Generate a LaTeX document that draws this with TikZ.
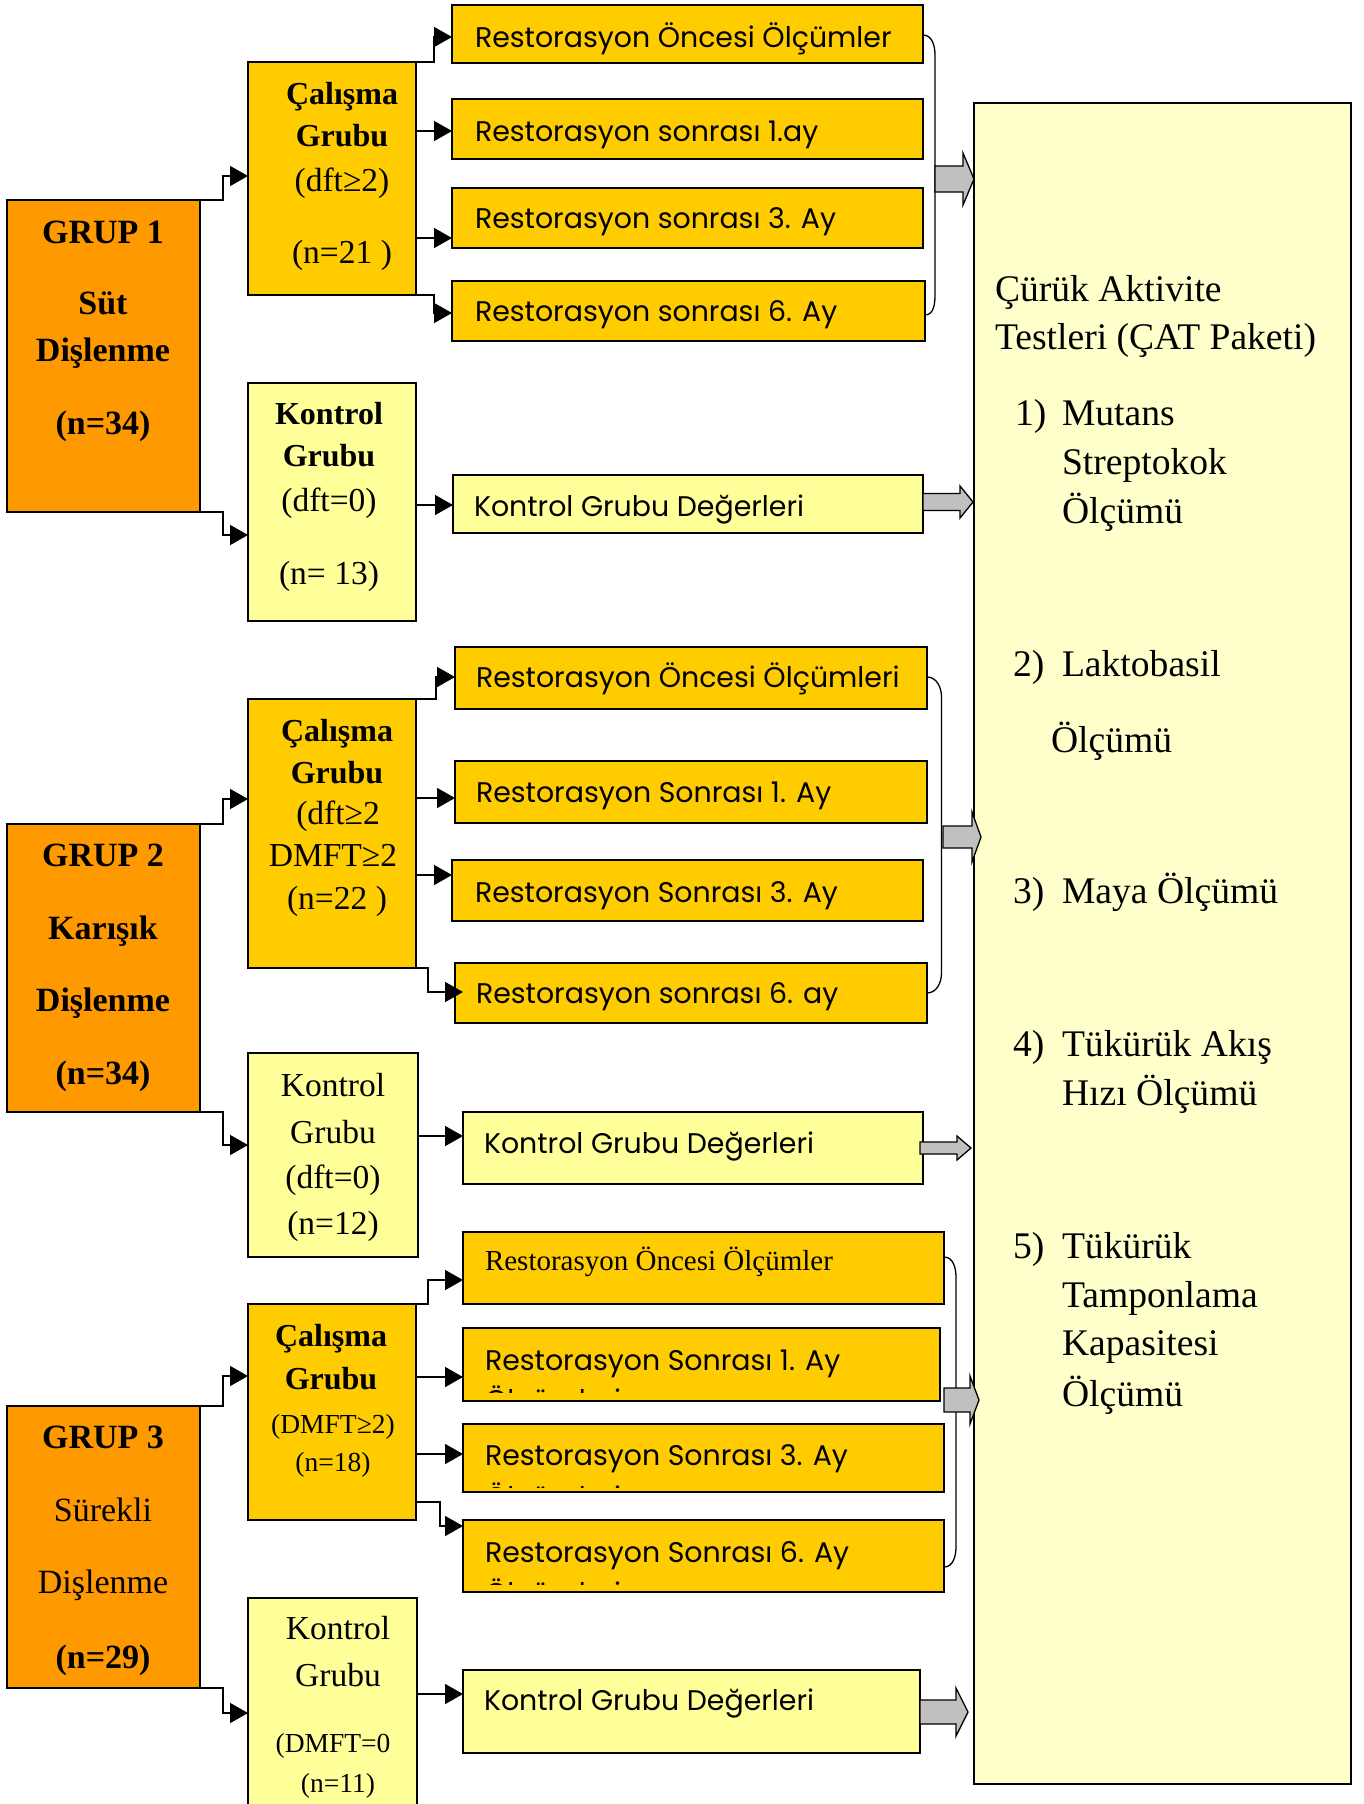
\documentclass[tikz,border=0pt]{standalone}
\usepackage{fontspec}
\setmainfont{Liberation Serif}
\newfontfamily\goth{Poppins}
\usetikzlibrary{arrows.meta,calc}
\definecolor{grpor}{HTML}{FF9900}
\definecolor{gold}{HTML}{FFCC00}
\definecolor{lyel}{HTML}{FFFF99}
\definecolor{paleyel}{HTML}{FFFFCC}
\definecolor{arrgray}{HTML}{C0C0C0}
\newcommand\bx[6]{%
 \pgfmathsetmacro\bxw{#5-#3}\pgfmathsetmacro\bxh{#6-#4}%
 \node[#2,anchor=north west,minimum width=\bxw pt,minimum height=\bxh pt] (#1) at (#3,#4) {};}
\newcommand\garrow[6]{\draw[garr] (#1,{#4-#5}) -- (#2,{#4-#5}) -- (#2,{#4-#6}) -- (#3,#4) -- (#2,{#4+#6}) -- (#2,{#4+#5}) -- (#1,{#4+#5}) -- cycle;}
\begin{document}
\begin{tikzpicture}[x=1pt,y=-1pt,
 every node/.style={inner sep=0pt,outer sep=0pt},
 bxs/.style={draw=black,line width=2pt},
 grp/.style={bxs,fill=grpor},
 gld/.style={bxs,fill=gold},
 lyb/.style={bxs,fill=lyel},
 bigb/.style={bxs,fill=paleyel},
 conn/.style={line width=1.6pt,-{Triangle[length=18pt,width=20pt]}},
 brc/.style={line width=1.3pt},
 garr/.style={draw=black,line width=1.3pt,fill=arrgray,line join=miter},
 tg/.style={font=\fontsize{34}{40}\selectfont\bfseries,anchor=base,yshift=-11.5pt},
 tgr/.style={font=\fontsize{34}{40}\selectfont,anchor=base,yshift=-11.5pt},
 tb/.style={font=\fontsize{32}{38}\selectfont\bfseries,anchor=base,yshift=-11pt},
 tr/.style={font=\fontsize{33.5}{38}\selectfont,anchor=base,yshift=-11pt},
 ts/.style={font=\fontsize{27.5}{32}\selectfont,anchor=base,yshift=-9pt},
 tc/.style={font=\fontsize{37.6}{42}\selectfont,anchor=base west,yshift=-12pt},
 tgo/.style={font=\goth\fontsize{28.4}{33}\selectfont,anchor=base west,yshift=-10pt},
 tt/.style={font=\fontsize{29}{34}\selectfont,anchor=base west,yshift=-10pt},
]
\useasboundingbox (0,0) rectangle (1363,1804);
\clip (0,0) rectangle (1363,1804);
\fill[white] (0,0) rectangle (1363,1804);

% ---------- big box ----------
\bx{cat}{bigb}{974}{103}{1351}{1784}

% ---------- Group 1 ----------
\bx{g1}{grp}{7}{200}{200}{512}
\bx{c1}{gld}{248}{62}{416}{295}
\bx{k1}{lyb}{248}{383}{416}{621}
\bx{r11}{gld}{452}{5}{923}{63}
\bx{r12}{gld}{452}{99}{923}{159}
\bx{r13}{gld}{452}{188}{923}{248}
\bx{r14}{gld}{452}{281}{925}{341}
\bx{kg1}{lyb}{453}{475}{923}{533}

% ---------- Group 2 ----------
\bx{g2}{grp}{7}{824}{200}{1112}
\bx{c2}{gld}{248}{699}{416}{968}
\bx{k2}{lyb}{248}{1053}{418}{1257}
\bx{r21}{gld}{455}{647}{927}{709}
\bx{r22}{gld}{455}{761}{927}{823}
\bx{r23}{gld}{452}{860}{923}{921}
\bx{r24}{gld}{455}{963}{927}{1023}
\bx{kg2}{lyb}{463}{1112}{923}{1184}

% ---------- Group 3 ----------
\bx{g3}{grp}{7}{1406}{200}{1688}
\bx{c3}{gld}{248}{1304}{416}{1520}
\bx{k3}{lyb}{248}{1598}{417}{1840}
\bx{r31}{gld}{463}{1232}{944}{1304}
\bx{r32}{gld}{463}{1328}{940}{1401}
\bx{r33}{gld}{463}{1424}{944}{1492}
\bx{r34}{gld}{463}{1520}{944}{1592}
\bx{kg3}{lyb}{463}{1670}{920}{1753}

% ---------- braces ----------
\draw[brc] (r11.east |- 0,35) to[out=0,in=90] (935,55) -- (935,295) to[out=-90,in=0] (r14.east |- 0,315);
\draw[brc] (r21.east |- 0,677) to[out=0,in=90] (941.5,697) -- (941.5,973) to[out=-90,in=0] (r24.east |- 0,993);
\draw[brc] (r31.east |- 0,1257) to[out=0,in=90] (956,1277) -- (956,1547) to[out=-90,in=0] (r34.east |- 0,1567);

% ---------- gray block arrows ----------
\garrow{935}{963}{974}{179}{13}{26}
\garrow{923}{960}{973}{502}{8.5}{16}
\garrow{943}{972}{981}{837}{11}{25}
\garrow{920}{957}{971}{1148}{6}{12}
\garrow{944}{970}{979}{1400}{12}{24}
\garrow{920}{956}{968}{1712}{12}{24}

% ---------- connectors ----------
\draw[conn] (g1.north east) -- (223,200) |- (c1.west |- 0,176);
\draw[conn] (g1.south east) -- (223,512) |- (k1.west |- 0,535);
\draw[conn] (c1.north east) -- (434,62) |- (r11.west |- 0,37);
\draw[conn] (c1.east |- 0,131) -- (r12.west |- 0,131);
\draw[conn] (c1.east |- 0,238) -- (r13.west |- 0,238);
\draw[conn] (c1.south east) -- (434,295) |- (r14.west |- 0,313);
\draw[conn] (k1.east |- 0,505) -- (kg1.west |- 0,505);

\draw[conn] (g2.north east) -- (223,824) |- (c2.west |- 0,799);
\draw[conn] (g2.south east) -- (223,1112) |- (k2.west |- 0,1145);
\draw[conn] (c2.north east) -- (436,699) |- (r21.west |- 0,677);
\draw[conn] (c2.east |- 0,798) -- (r22.west |- 0,798);
\draw[conn] (c2.east |- 0,875) -- (r23.west |- 0,875);
\draw[conn] (c2.south east) -- (428,968) |- ($(r24.west |- 0,992)+(8,0)$);
\draw[conn] (k2.east |- 0,1136) -- (kg2.west |- 0,1136);

\draw[conn] (g3.north east) -- (223,1406) |- (c3.west |- 0,1376);
\draw[conn] (g3.south east) -- (223,1688) |- (k3.west |- 0,1713);
\draw[conn] (c3.north east) -- (428,1304) |- (r31.west |- 0,1280);
\draw[conn] (c3.east |- 0,1377) -- (r32.west |- 0,1377);
\draw[conn] (c3.east |- 0,1454) -- (r33.west |- 0,1454);
\draw[conn] (c3.east |- 0,1502) -- (440,1502) |- (r34.west |- 0,1526);
\draw[conn] (k3.east |- 0,1694) -- (kg3.west |- 0,1694);

% ---------- texts group 1 ----------
\node[tg] (g1t1) at (103,232) {GRUP 1};
\node[tg] (g1t2) at (103,303) {Süt};
\node[tg] (g1t3) at (103,350) {Dişlenme};
\node[tg] (g1t4) at (103,423) {(n=34)};
\node[tb] (c1t1) at (342,93) {Çalışma};
\node[tb] (c1t2) at (342,135) {Grubu};
\node[tr] (c1t3) at (342,180) {(dft≥2)};
\node[tr] (c1t4) at (342,252) {(n=21 )};
\node[tb] (k1t1) at (329,413) {Kontrol};
\node[tb] (k1t2) at (329,455) {Grubu};
\node[tr] (k1t3) at (329,500) {(dft=0)};
\node[tr] (k1t4) at (329,573) {(n= 13)};
\node[tgo] (r11t) at (475,37) {Restorasyon Öncesi Ölçümler};
\node[tgo] (r12t) at (475,131) {Restorasyon sonrası 1.ay};
\node[tgo] (r13t) at (475,218) {Restorasyon sonrası 3. Ay};
\node[tgo] (r14t) at (475,311) {Restorasyon sonrası 6. Ay};
\node[tgo] (kg1t) at (474,506) {Kontrol Grubu Değerleri};

% ---------- texts group 2 ----------
\node[tg] (g2t1) at (103,855) {GRUP 2};
\node[tg] (g2t2) at (103,928) {Karışık};
\node[tg] (g2t3) at (103,1000) {Dişlenme};
\node[tg] (g2t4) at (103,1073) {(n=34)};
\node[tb] (c2t1) at (337,730) {Çalışma};
\node[tb] (c2t2) at (337,772) {Grubu};
\node[tr] (c2t3) at (338,813) {(dft≥2};
\node[tr] (c2t4) at (333,855) {DMFT≥2};
\node[tr] (c2t5) at (337,898) {(n=22 )};
\node[tr] (k2t1) at (333,1085) {Kontrol};
\node[tr] (k2t2) at (333,1132) {Grubu};
\node[tr] (k2t3) at (333,1177) {(dft=0)};
\node[tr] (k2t4) at (333,1223) {(n=12)};
\node[tgo] (r21t) at (476,677) {Restorasyon Öncesi Ölçümleri};
\node[tgo] (r22t) at (476,792) {Restorasyon Sonrası 1. Ay};
\node[tgo] (r23t) at (475,892) {Restorasyon Sonrası 3. Ay};
\node[tgo] (r24t) at (476,993) {Restorasyon sonrası 6. ay};
\node[tgo] (kg2t) at (484,1143) {Kontrol Grubu Değerleri};

% ---------- texts group 3 ----------
\node[tg] (g3t1) at (103,1437) {GRUP 3};
\node[tgr] (g3t2) at (103,1510) {Sürekli};
\node[tgr] (g3t3) at (103,1582) {Dişlenme};
\node[tg] (g3t4) at (103,1657) {(n=29)};
\node[tb] (c3t1) at (331,1335) {Çalışma};
\node[tb] (c3t2) at (331,1378) {Grubu};
\node[ts] (c3t3) at (333,1424) {(DMFT≥2)};
\node[ts] (c3t4) at (333,1462) {(n=18)};
\node[tr] (k3t1) at (338,1628) {Kontrol};
\node[tr] (k3t2) at (338,1675) {Grubu};
\node[ts] (k3t3) at (333,1743) {(DMFT=0};
\node[ts] (k3t4) at (338,1783) {(n=11)};
\node[tt] (r31t) at (485,1260) {Restorasyon Öncesi Ölçümler};
\node[tgo] (r32t) at (485,1360) {Restorasyon Sonrası 1. Ay};
\node[tgo] (r33t) at (485,1455) {Restorasyon Sonrası 3. Ay};
\node[tgo] (r34t) at (485,1552) {Restorasyon Sonrası 6. Ay};
\begin{scope}
\clip (463,1328) rectangle (940,1392);
\node[tgo] (r32u) at (485,1400) {Ölçümleri};
\end{scope}
\begin{scope}
\clip (463,1424) rectangle (944,1487);
\node[tgo] (r33u) at (485,1497) {Ölçümleri};
\end{scope}
\begin{scope}
\clip (463,1520) rectangle (944,1584);
\node[tgo] (r34u) at (485,1593) {Ölçümleri};
\end{scope}
\node[tgo] (kg3t) at (484,1700) {Kontrol Grubu Değerleri};

% ---------- CAT box texts ----------
\node[tc] (ct1) at (995,289) {Çürük Aktivite};
\node[tc] (ct2) at (995,337) {Testleri (ÇAT Paketi)};
\node[tc] (cn1) at (1015,413) {1)};
\node[tc] (ci1a) at (1062,413) {Mutans};
\node[tc] (ci1b) at (1062,462) {Streptokok};
\node[tc] (ci1c) at (1062,511) {Ölçümü};
\node[tc] (cn2) at (1013,664) {2)};
\node[tc] (ci2a) at (1062,664) {Laktobasil};
\node[tc] (ci2b) at (1051,740) {Ölçümü};
\node[tc] (cn3) at (1013,891) {3)};
\node[tc] (ci3a) at (1062,891) {Maya Ölçümü};
\node[tc] (cn4) at (1013,1044) {4)};
\node[tc] (ci4a) at (1062,1044) {Tükürük Akış};
\node[tc] (ci4b) at (1062,1093) {Hızı Ölçümü};
\node[tc] (cn5) at (1013,1246) {5)};
\node[tc] (ci5a) at (1062,1246) {Tükürük};
\node[tc] (ci5b) at (1062,1295) {Tamponlama};
\node[tc] (ci5c) at (1062,1343) {Kapasitesi};
\node[tc] (ci5d) at (1062,1394) {Ölçümü};
\end{tikzpicture}
\end{document}
